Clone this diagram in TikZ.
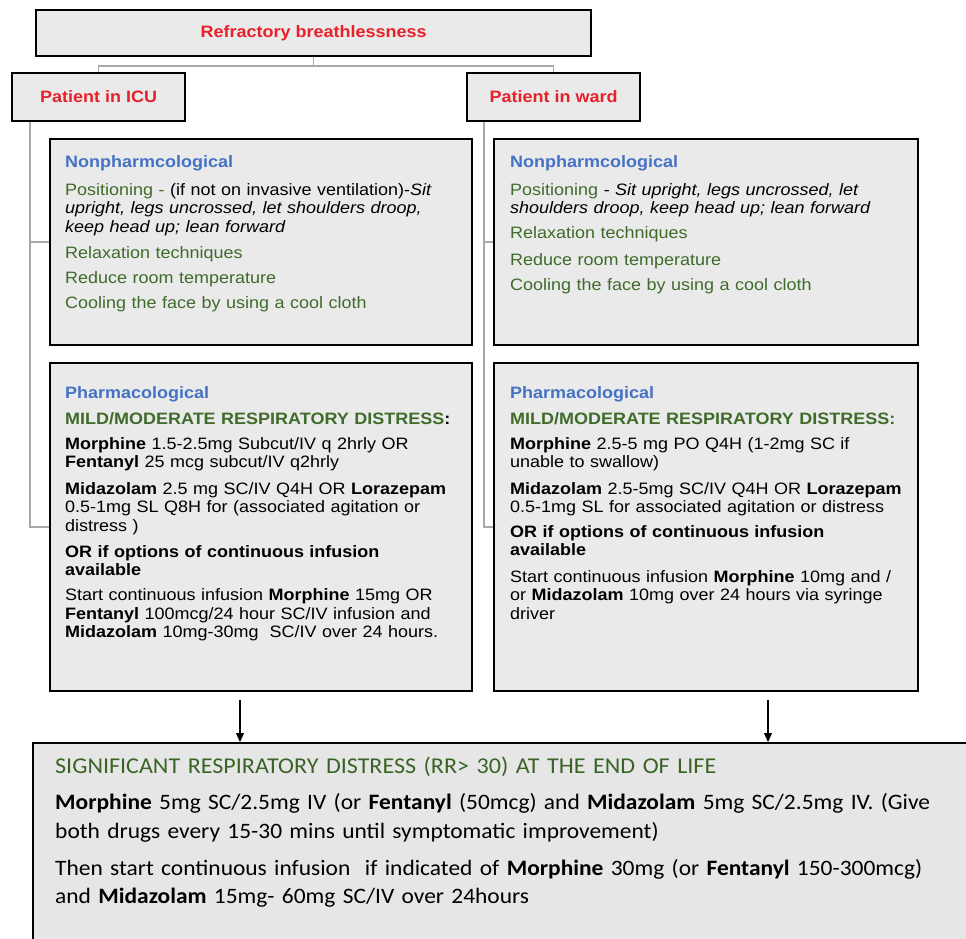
\documentclass[tikz,border=0pt]{standalone}
\usepackage{fontspec}
\setmainfont[FakeStretch=1.09]{Liberation Sans}
\newfontfamily\calfont[FakeStretch=1.065]{Carlito}
\usetikzlibrary{arrows.meta}
\definecolor{tred}{HTML}{E8202A}
\definecolor{tblue}{HTML}{4472C4}
\definecolor{tgreen}{HTML}{3F6B2B}
\definecolor{hgreen}{HTML}{3A6426}
\definecolor{boxfill}{HTML}{EAEAEA}
\definecolor{bigfill}{HTML}{E6E6E6}
\definecolor{conngray}{HTML}{A8A8A8}
\tikzset{
  box/.style={draw=black, line width=2.2pt, fill=boxfill, inner sep=0pt, anchor=north west},
  headbox/.style={box, text=tred, font=\fontsize{16.5}{18}\selectfont\bfseries},
  para/.style={anchor=base west, inner sep=0pt, text width=420pt, align=left,
               font=\fontsize{16.5}{18.5}\selectfont},
  bpara/.style={anchor=base west, inner sep=0pt, text width=930pt, align=left,
               font=\calfont\fontsize{22}{28.8}\selectfont},
  conn/.style={draw=conngray, line width=1.5pt},
  arr/.style={draw=black, line width=1.3pt, -{Triangle[length=9pt,width=8pt]}}
}
\begin{document}
\begin{tikzpicture}[x=1pt,y=-1pt]
\useasboundingbox (0,0) rectangle (966,939);
\clip (0,0) rectangle (966,939);
% boxes
\node[headbox, minimum width=555pt, minimum height=46pt] (top) at (35,9) {Refractory breathlessness};
\node[headbox, minimum width=173pt, minimum height=48pt] (icu) at (11,72) {Patient in ICU};
\node[headbox, minimum width=173pt, minimum height=48pt] (ward) at (466,72) {Patient in ward};
\node[box, minimum width=422pt, minimum height=206pt] (nonicu) at (49,138) {};
\node[box, minimum width=424pt, minimum height=206pt] (nonward) at (493,138) {};
\node[box, minimum width=422pt, minimum height=328pt] (pharmicu) at (49,362) {};
\node[box, minimum width=424pt, minimum height=328pt] (pharmward) at (493,362) {};
\node[box, fill=bigfill, minimum width=960pt, minimum height=220pt] (sig) at (32,742) {};
% connectors
\draw[conn] (top.south) -- ++(0,9) -| (icu.north);
\draw[conn] (top.south) -- ++(0,9) -| (ward.north);
\draw[conn] ([xshift=-68.5pt]icu.south) |- (nonicu.west);
\draw[conn] ([xshift=-68.5pt]icu.south) |- (pharmicu.west);
\draw[conn] ([xshift=-69.5pt]ward.south) |- (nonward.west);
\draw[conn] ([xshift=-69.5pt]ward.south) |- (pharmward.west);
\coordinate (a1) at (240,700);
\coordinate (a2) at (768,700);
\draw[arr] (a1) -- (a1 |- sig.north);
\draw[arr] (a2) -- (a2 |- sig.north);
% ICU nonpharmacological
\node[para, text=tblue, font=\fontsize{16.5}{18.5}\selectfont\bfseries] (n1t) at (65,167.5) {Nonpharmcological};
\node[para] (n1a) at (65,195) {{\color{tgreen}Positioning -} (if not on invasive ventilation)-\textit{Sit}\\\textit{upright, legs uncrossed, let shoulders droop,}\\\textit{keep head up; lean forward}};
\node[para, text=tgreen] (n1b) at (65,258.3) {Relaxation techniques};
\node[para, text=tgreen] (n1c) at (65,283.3) {Reduce room temperature};
\node[para, text=tgreen] (n1d) at (65,308.3) {Cooling the face by using a cool cloth};
% ward nonpharmacological
\node[para, text=tblue, font=\fontsize{16.5}{18.5}\selectfont\bfseries] (n2t) at (510,167.5) {Nonpharmcological};
\node[para] (n2a) at (510,195) {{\color{tgreen}Positioning} \textit{- Sit upright, legs uncrossed, let}\\\textit{shoulders droop, keep head up; lean forward}};
\node[para, text=tgreen] (n2b) at (510,238.3) {Relaxation techniques};
\node[para, text=tgreen] (n2c) at (510,265) {Reduce room temperature};
\node[para, text=tgreen] (n2d) at (510,290.7) {Cooling the face by using a cool cloth};
% ICU pharmacological
\node[para, text=tblue, font=\fontsize{16.5}{18.5}\selectfont\bfseries] (p1t) at (65,398.3) {Pharmacological};
\node[para, font=\fontsize{16.5}{18.5}\selectfont\bfseries] (p1m) at (65,424) {{\color{tgreen}MILD/MODERATE RESPIRATORY DISTRESS}:};
\node[para] (p1a) at (65,449.3) {\textbf{Morphine} 1.5-2.5mg Subcut/IV q 2hrly OR\\\textbf{Fentanyl} 25 mcg subcut/IV q2hrly};
\node[para] (p1b) at (65,494) {\textbf{Midazolam} 2.5 mg SC/IV Q4H OR \textbf{Lorazepam}\\0.5-1mg SL Q8H for (associated agitation or\\distress )};
\node[para, font=\fontsize{16.5}{18.5}\selectfont\bfseries] (p1c) at (65,557.3) {OR if options of continuous infusion\\available};
\node[para] (p1d) at (65,600.7) {Start continuous infusion \textbf{Morphine} 15mg OR\\\textbf{Fentanyl} 100mcg/24 hour SC/IV infusion and\\\textbf{Midazolam} 10mg-30mg\ \ SC/IV over 24 hours.};
% ward pharmacological
\node[para, text=tblue, font=\fontsize{16.5}{18.5}\selectfont\bfseries] (p2t) at (510,398.3) {Pharmacological};
\node[para, text=tgreen, font=\fontsize{16.5}{18.5}\selectfont\bfseries] (p2m) at (510,424) {MILD/MODERATE RESPIRATORY DISTRESS:};
\node[para] (p2a) at (510,449.3) {\textbf{Morphine} 2.5-5 mg PO Q4H (1-2mg SC if\\unable to swallow)};
\node[para] (p2b) at (510,494) {\textbf{Midazolam} 2.5-5mg SC/IV Q4H OR \textbf{Lorazepam}\\0.5-1mg SL for associated agitation or distress};
\node[para, font=\fontsize{16.5}{18.5}\selectfont\bfseries] (p2c) at (510,537.3) {OR if options of continuous infusion\\available};
\node[para] (p2d) at (510,582.3) {Start continuous infusion \textbf{Morphine} 10mg and /\\or \textbf{Midazolam} 10mg over 24 hours via syringe\\driver};
% significant distress
\node[bpara, text=hgreen, font=\calfont\fontsize{22.6}{28.8}\selectfont] (s1) at (55,773.3) {SIGNIFICANT RESPIRATORY DISTRESS (RR> 30) AT THE END OF LIFE};
\node[bpara] (s2) at (55,809.3) {\textbf{Morphine} 5mg SC/2.5mg IV (or \textbf{Fentanyl} (50mcg) and \textbf{Midazolam} 5mg SC/2.5mg IV. (Give\\both drugs every 15-30 mins until symptomatic improvement)};
\node[bpara] (s3) at (55,875) {Then start continuous infusion\ \ if indicated of \textbf{Morphine} 30mg (or \textbf{Fentanyl} 150-300mcg)\\and \textbf{Midazolam} 15mg- 60mg SC/IV over 24hours};
\end{tikzpicture}
\end{document}
